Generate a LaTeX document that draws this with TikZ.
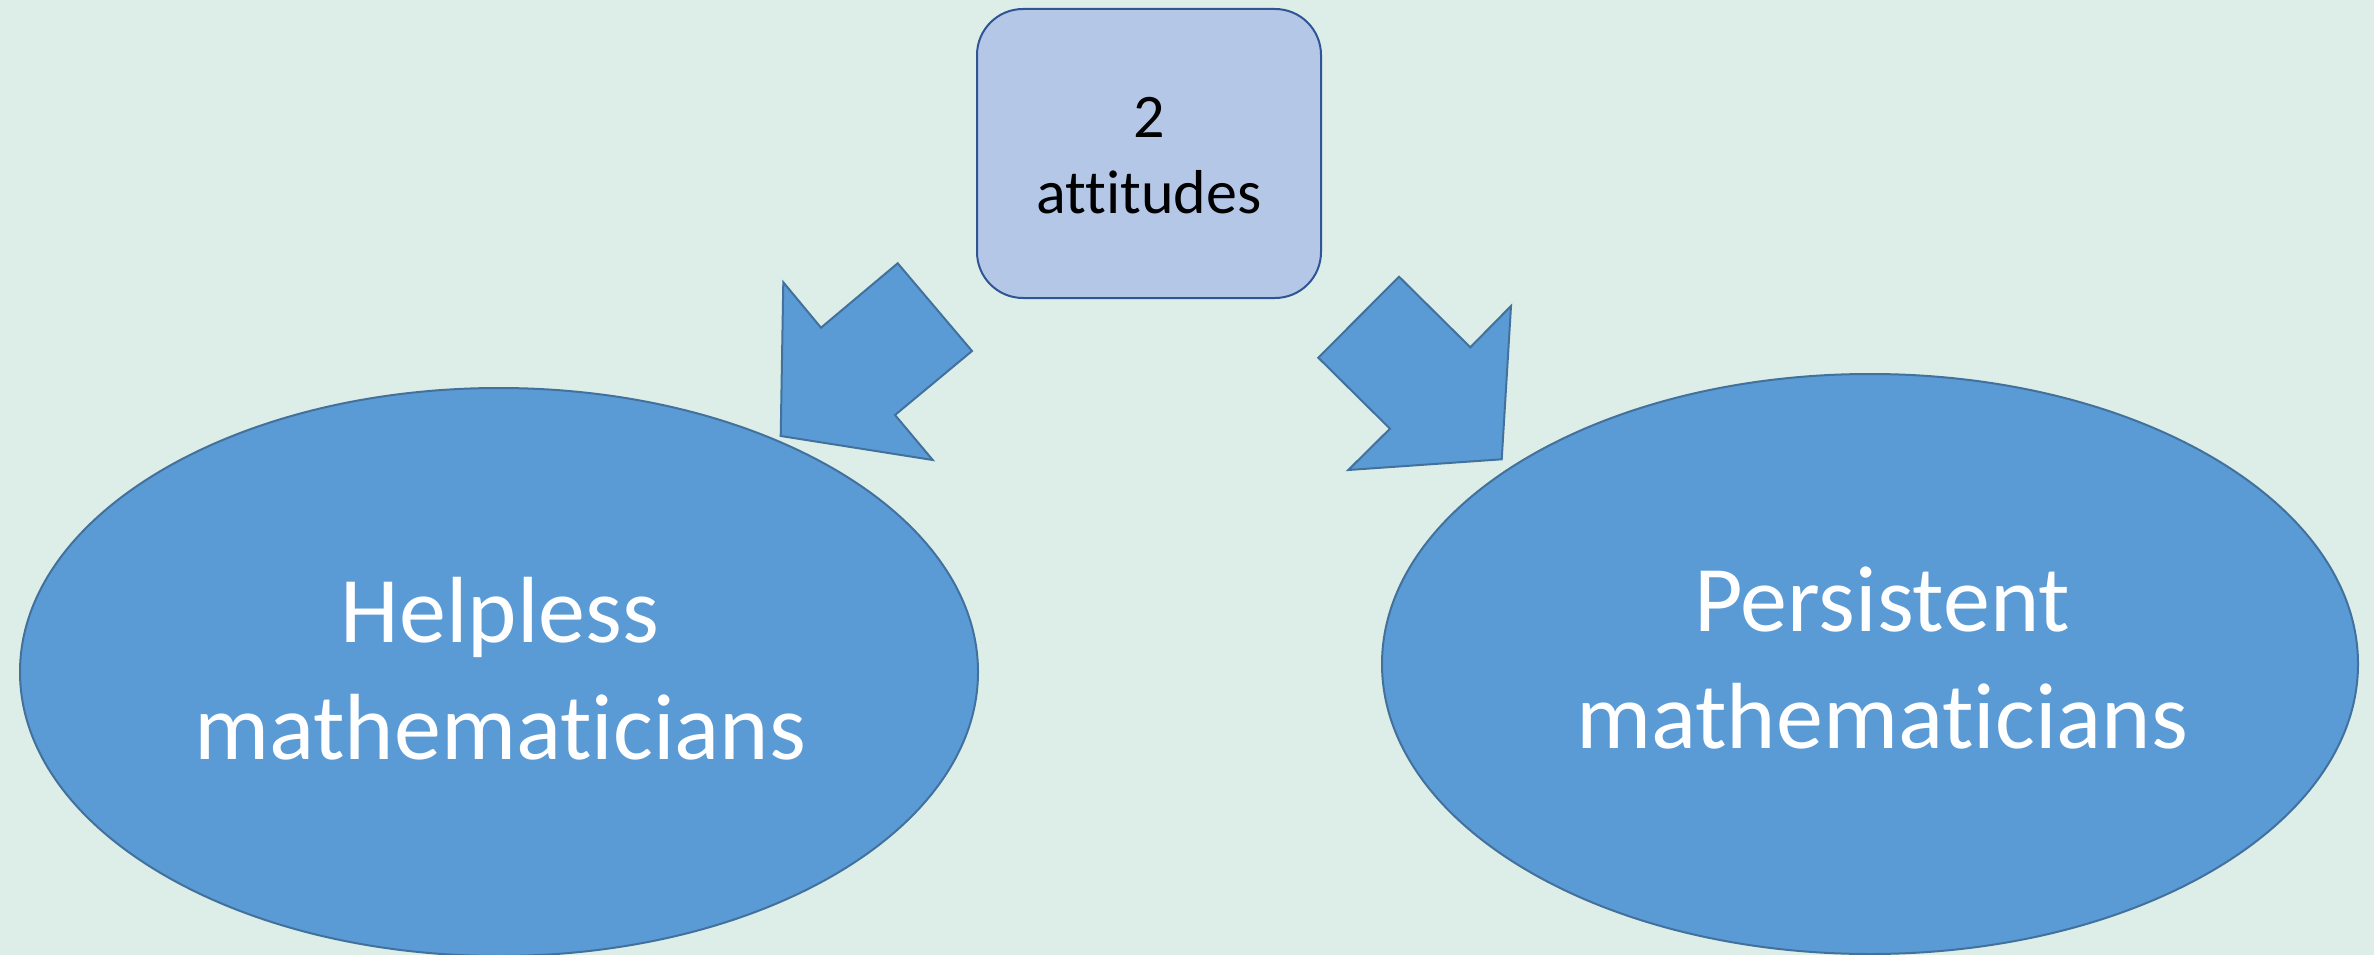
\documentclass[tikz,border=0pt]{standalone}
\usepackage{fontspec}
\setmainfont{Carlito}[Ligatures={NoCommon}]
\usetikzlibrary{shapes.geometric}
\definecolor{bg}{HTML}{DDEDE7}
\definecolor{boxfill}{HTML}{B4C7E7}
\definecolor{boxline}{HTML}{2F5597}
\definecolor{blobfill}{HTML}{5B9BD5}
\definecolor{blobline}{HTML}{41719C}
\tikzset{
  topbox/.style={draw=boxline, fill=boxfill, line width=2pt, rounded corners=46pt,
    minimum width=344pt, minimum height=289pt, inner sep=0pt},
  boxtext/.style={align=center, inner sep=0pt, text=black,
    font=\fontsize{62}{76}\selectfont},
  blob/.style={ellipse, draw=blobline, fill=blobfill, line width=2pt, inner sep=0pt},
  blobtext/.style={align=center, inner sep=0pt, text=white,
    font=\fontsize{94}{117}\selectfont},
  blockarrow/.style={draw=blobline, fill=blobfill, line width=2pt, line join=miter}
}
\begin{document}
\begin{tikzpicture}[x=1pt, y=-1pt]
\fill[bg] (0,0) rectangle (2374,955);
\useasboundingbox (0,0) rectangle (2374,955);
% top box
\node[topbox] (att) at (1149,153.5) {};
\node[boxtext] (attt) at (1149,155.5) {2\\attitudes};
% ellipses
\node[blob, minimum width=958pt, minimum height=568pt] (help) at (499,672) {};
\node[blobtext] (helpt) at (500,669) {Helpless\\mathematicians};
\node[blob, minimum width=976pt, minimum height=580pt] (pers) at (1870,664) {};
\node[blobtext] (perst) at (1882,658) {Persistent\\mathematicians};
% block arrows
\coordinate (la1) at (897.7,263.3);
\coordinate (la2) at (972,351);
\coordinate (la3) at (895,415);
\coordinate (la4) at (932.7,460);
\coordinate (la5) at (780.7,436);
\coordinate (la6) at (783.3,282.3);
\coordinate (la7) at (821,327.7);
\draw[blockarrow] (la1) -- (la2) -- (la3) -- (la4) -- (la5) -- (la6) -- (la7) -- cycle;
\coordinate (ra1) at (1399,276.7);
\coordinate (ra2) at (1318.3,357.7);
\coordinate (ra3) at (1390,428.7);
\coordinate (ra4) at (1348.3,470);
\coordinate (ra5) at (1501.7,459.3);
\coordinate (ra6) at (1511,306);
\coordinate (ra7) at (1470.3,347.3);
\draw[blockarrow] (ra1) -- (ra2) -- (ra3) -- (ra4) -- (ra5) -- (ra6) -- (ra7) -- cycle;
\end{tikzpicture}
\end{document}
